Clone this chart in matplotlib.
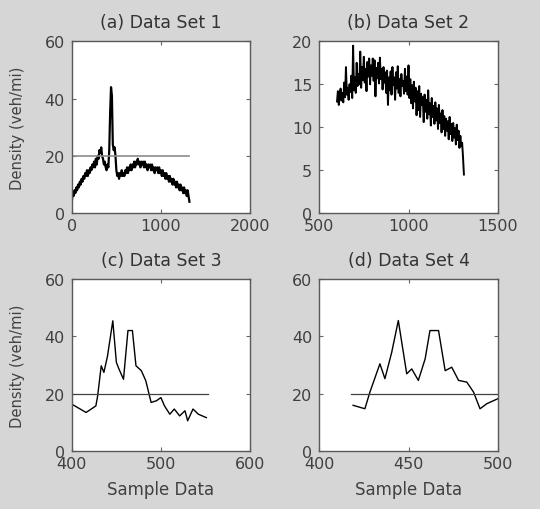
import numpy as np
import matplotlib
matplotlib.use("Agg")
import matplotlib.pyplot as plt

plt.rcParams['font.family'] = ['DejaVu Sans']

# data set 1: sample index 0..1320, step 10
ds1_x = list(range(0, 1330, 10))
ds1_y = [4, 7, 6, 8, 7, 9, 8, 10, 9, 11, 10, 12, 11, 13, 12, 14, 13, 15, 13, 15,
         14, 16, 15, 17, 16, 18, 16, 19, 17, 20, 19, 22, 21, 23, 20, 19, 17, 18, 16, 15,
         17, 16, 22, 35, 44, 41, 24, 22, 23, 20, 15, 13, 14, 12, 14, 13, 15, 13, 14, 13,
         15, 14, 16, 14, 16, 15, 17, 15, 17, 16, 18, 16, 18, 17, 19, 17, 18, 16, 18, 17,
         18, 16, 18, 16, 17, 15, 17, 16, 17, 15, 17, 15, 16, 14, 16, 15, 16, 14, 16, 14,
         15, 13, 15, 13, 14, 12, 14, 12, 13, 11, 13, 11, 12, 10, 12, 10, 11, 9, 11, 9,
         10, 8, 10, 8, 9, 7, 9, 7, 8, 6, 8, 6, 4]

# data set 2: sample index 600..1310, step 5
ds2_x = list(range(600, 1315, 5))
ds2_y = [13.0, 14.2, 12.6, 13.8, 14.5, 13.1, 14.0, 12.9, 15.2, 13.5,
         17.0, 13.8, 14.6, 13.2, 15.0, 14.1, 16.0, 13.4, 19.5, 14.3,
         15.8, 14.0, 17.5, 14.8, 16.2, 15.0, 18.8, 14.6, 17.0, 15.5,
         18.2, 15.2, 16.8, 14.2, 17.6, 15.9, 18.0, 15.0, 17.2, 16.0,
         18.0, 15.4, 17.8, 13.6, 16.9, 15.7, 17.5, 15.1, 18.1, 15.6,
         16.8, 14.4, 17.0, 15.2, 16.4, 14.0, 16.6, 12.6, 15.8, 14.3,
         16.5, 13.8, 17.0, 14.9, 15.8, 13.2, 16.4, 14.5, 17.1, 14.0,
         15.6, 13.6, 16.2, 14.8, 15.4, 13.9, 16.8, 14.2, 15.9, 13.8,
         17.2, 13.4, 15.6, 12.8, 14.9, 12.2, 15.3, 13.0, 14.6, 11.4,
         14.2, 12.0, 14.8, 11.2, 13.9, 12.6, 13.5, 10.6, 13.8, 11.8,
         13.2, 11.0, 14.3, 11.5, 12.8, 10.2, 13.4, 11.2, 12.5, 10.4,
         12.9, 10.8, 12.2, 9.8, 12.6, 10.5, 11.6, 9.4, 12.0, 9.8,
         11.3, 9.0, 11.0, 9.6, 10.7, 8.6, 11.2, 9.2, 10.4, 8.4,
         10.5, 8.8, 9.9, 8.0, 10.3, 8.5, 9.6, 7.6, 9.0, 7.8,
         8.2, 6.5, 4.5]

# data set 3
ds3_x = [400, 416, 427, 429, 433, 436, 440, 446, 450, 453, 458, 463, 468, 472,
         478, 483, 489, 495, 500, 504, 510, 515, 521, 527, 530, 536, 542, 551]
ds3_y = [16.3, 13.4, 15.7, 19.2, 29.7, 27.4, 33, 45.4, 30.9, 28.5, 25, 42, 42, 29.7,
         28, 24.5, 16.9, 17.5, 18.6, 15.7, 12.8, 14.6, 12.2, 14, 10.5, 14.6, 12.8, 11.6]

# data set 4
ds4_x = [419, 425.6, 428.4, 434, 436.8, 440.6, 444.3, 449, 451.8, 455.5, 459.3, 462,
         466.8, 470.5, 474.2, 478, 482.6, 486.4, 490, 493.9, 500]
ds4_y = [15.9, 14.7, 20.5, 30.4, 25.2, 34.4, 45.5, 26.9, 28.6, 24.6, 32.1, 42,
         42, 28, 29.2, 24.6, 24, 20.5, 14.7, 16.5, 18.2]

threshold = 20

fig = plt.figure(figsize=(5.4, 5.1), dpi=100, facecolor='#d6d6d6')

ax_a = fig.add_axes([0.133, 0.580, 0.330, 0.337])
ax_b = fig.add_axes([0.591, 0.580, 0.331, 0.337])
ax_c = fig.add_axes([0.133, 0.114, 0.330, 0.337])
ax_d = fig.add_axes([0.591, 0.114, 0.331, 0.337])

ax_a.plot(ds1_x, ds1_y, color='black', lw=1.6)
ax_a.plot([ds1_x[0], ds1_x[-1]], [threshold, threshold], color='0.55', lw=1.2)
ax_a.set_xlim(0, 2000)
ax_a.set_ylim(0, 60)
ax_a.set_xticks([0, 1000, 2000])
ax_a.set_yticks([0, 20, 40, 60])
ax_a.set_title('(a) Data Set 1', pad=10)
ax_a.set_ylabel('Density (veh/mi)', labelpad=14)

ax_b.plot(ds2_x, ds2_y, color='black', lw=1.4)
ax_b.set_xlim(500, 1500)
ax_b.set_ylim(0, 20)
ax_b.set_xticks([500, 1000, 1500])
ax_b.set_yticks([0, 5, 10, 15, 20])
ax_b.set_title('(b) Data Set 2', pad=10)

ax_c.plot(ds3_x, ds3_y, color='black', lw=1.0)
ax_c.plot([400, 553], [threshold, threshold], color='0.25', lw=0.9)
ax_c.set_xlim(400, 600)
ax_c.set_ylim(0, 60)
ax_c.set_xticks([400, 500, 600])
ax_c.set_yticks([0, 20, 40, 60])
ax_c.set_title('(c) Data Set 3', pad=10)
ax_c.set_ylabel('Density (veh/mi)', labelpad=14)
ax_c.set_xlabel('Sample Data', labelpad=7)

ax_d.plot(ds4_x, ds4_y, color='black', lw=1.0)
ax_d.plot([418, 500], [threshold, threshold], color='0.25', lw=0.9)
ax_d.set_xlim(400, 500)
ax_d.set_ylim(0, 60)
ax_d.set_xticks([400, 450, 500])
ax_d.set_yticks([0, 20, 40, 60])
ax_d.set_title('(d) Data Set 4', pad=10)
ax_d.set_xlabel('Sample Data', labelpad=7)

for ax in [ax_a, ax_b, ax_c, ax_d]:
    ax.tick_params(direction='in', top=True, right=True, labelsize=11.5, length=3,
                   color='0.4', labelcolor='0.25')
    ax.tick_params(axis='y', pad=5)
    ax.title.set_fontsize(12.5)
    ax.title.set_color('0.2')
    ax.xaxis.label.set_fontsize(12)
    ax.xaxis.label.set_color('0.25')
    ax.yaxis.label.set_fontsize(10.6)
    ax.yaxis.label.set_color('0.25')
    for s in ax.spines.values():
        s.set_color('0.35')
        s.set_linewidth(1.0)

fig.savefig('out.png', dpi=100, facecolor=fig.get_facecolor())
